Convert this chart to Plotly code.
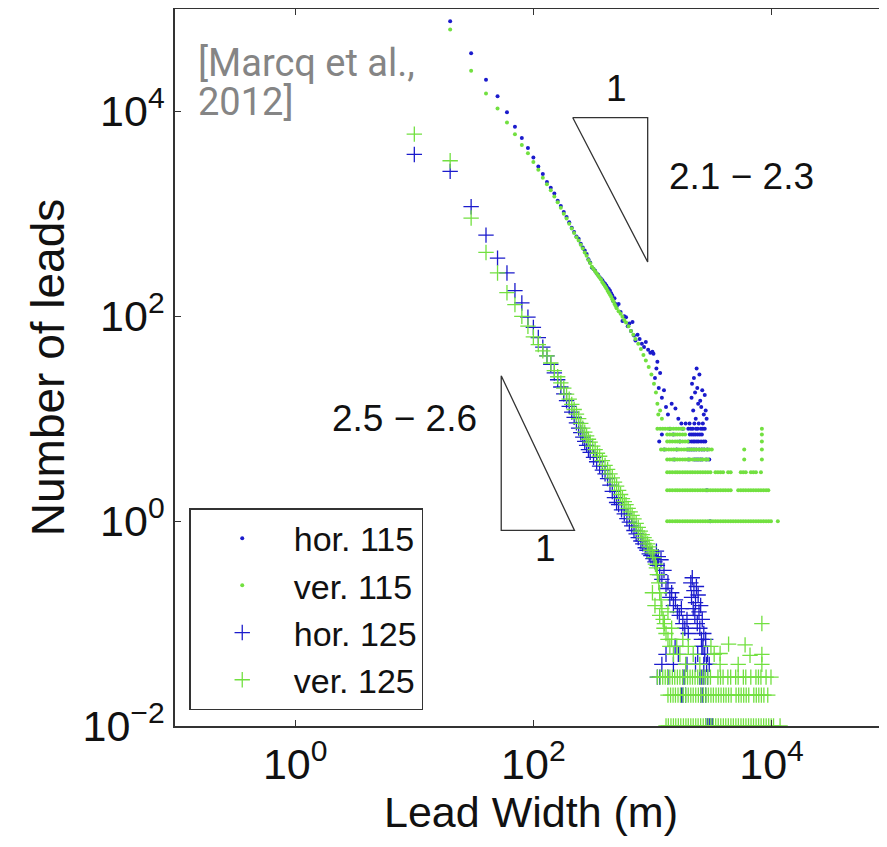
import plotly.graph_objects as go

BLUE = '#1b1bcc'
GREEN = '#72e040'
FRAME = '#333333'

# ---------------- data: (lead width in m, number of leads) ----------------
H115_MAIN = [(20,76000),(30,37000),(40,20400),(50,14100),(60,9800),(70,7100),(80,5500),(90,4400),
             (100,3550),(110,2900),(120,2450),(130,2050),(140,1800),(150,1580),(160,1340),(170,1190),
             (180,1040),(190,930),(200,830),(210,730),(220,665),(230,600),(240,570),(250,510),(260,470),
             (270,440),(280,405),(290,360),(300,335),(310,300),(320,290),(330,278),(340,262),(350,255),
             (360,240),(370,232),(380,225),(390,214),(400,208),(410,200),(420,190),(430,185),(440,178),
             (450,168),(460,160),(470,140),(480,150),(490,132),(500,125),(520,132),(540,110),(560,90),
             (580,100),(600,98),(620,80),(640,85),(660,72),(680,88),(700,65),(720,58),(750,66),(780,60),
             (815,54),(850,50),(880,56),(920,47),(960,44),(1000,45),(1020,43),(1050,25),(1080,31),
             (1100,36),(1130,20),(1160,28),(1200,16),(1250,19),(1300,13),(1350,11),(1450,14),(1560,12.6),
             (1650,10),(1750,9),
             (2130,16),(2150,22),(2200,12),(2230,25),(2280,18),(2310,10),(2350,31),(2380,20),(2420,14),
             (2480,27),(2520,15),(2570,13),(2620,19),(2700,11),(2750,17),(2800,12),(2850,10)]
H115_ROW_COUNTS = [9, 8, 7, 6, 5, 4, 2, 1]
H115_ROW_WIDTHS = [
    [1900, 2050, 2250, 2450, 2650],
    [1400, 1800, 2000, 2100, 2180, 2320, 2400, 2550, 2650, 2750],
    [1200, 1500, 2060, 2140, 2220, 2300, 2400, 2500, 2600],
    [1140, 1700, 2020, 2120, 2200, 2270, 2360, 2440, 2560, 2680, 2780],
    [1260, 1600, 1980, 2060, 2140, 2230, 2330, 2470, 2600, 2720, 2900],
    [1520, 2020, 2240, 2330, 2420, 2520, 2610, 2840, 3000],
    [2870],
    [3050],
]

V115_MAIN = [(20,63000),(30,25000),(40,15000),(50,10700),(60,7800),(70,6000),(80,4700),(90,3900),
             (100,3200),(110,2700),(120,2250),(130,1950),(140,1700),(150,1480),(160,1300),(170,1150),
             (180,1000),(190,900),(200,800),(210,720),(220,650),(230,590),(240,550),(250,500),(260,460),
             (270,420),(280,390),(290,355),(300,330),(310,305),(320,290),(330,275),(340,262),(350,250),
             (360,238),(370,228),(380,215),(390,205),(400,196),(410,188),(420,178),(430,170),(440,162),
             (450,155),(460,147),(470,140),(480,132),(490,126),(500,120),(520,112),(540,106),(560,99),
             (580,92),(600,87),(630,80),(660,72),(690,66),(720,60),(760,54),(800,48),(840,42),(880,37),
             (930,32),(980,27),(1030,22),(1070,18),(1100,14),(1120,11),(1160,12),(1200,10)]
V115_ROW_COUNTS = [1, 2, 3, 4, 5, 6, 7, 8]
V115_ROW_WIDTHS = [
    [1330,1400,1470,1550,1620,1700,1790,1880,1970,2070,2170,2280,2400,2520,2650,2780,2920,3070,3220,
     3380,3550,3730,3920,4110,4320,4540,4760,5000,5250,5520,5790,6080,6390,6710,7040,7400,7770,8150,
     8560,9000,9450,9900,11300],
    [1330,1400,1470,1550,1620,1700,1790,1880,1970,2070,2170,2280,2400,2520,2650,2780,2920,3070,3220,
     3380,3550,3730,3920,4110,4320,4540,5250,5520,5790,6080,6390,6710,7040,7400,7770,8150,8560,9000,9400],
    [1330,1400,1470,1550,1620,1700,1790,1880,1970,2070,2170,2280,2400,2520,2650,2780,2920,3070,3380,
     3550,3730,3920,4320,4540,5520,5790,6080,6710,7040,7400,8150],
    [1330,1400,1470,1550,1620,1700,1790,1880,1970,2070,2170,2280,2400,2520,2650,2780,2920,5900,8300],
    [1180,1240,1300,1370,1440,1510,1590,1670,1750,1840,1930,2030,2130,2240,2350,2470,2590,2720,2860,
     3000,3150,5900,8300],
    [1330,1400,1470,1550,1620,1700,1790,1880,1970,8300],
    [1330,1400,1470,1550,1620,1700,1790,1880,8300],
    [1100,1160,1220,1280,1350,1420,1500,1580,1660,1740,1830,8300],
]

H125_MAIN = [(10,3800),(20,2600),(30,1175),(40,620),(50,370),(60,265),(70,178),(80,135),(90,98),
             (100,78),(110,62),(120,50),(130,41),(140,34),(150,28),(160,24),(170,20.4),(180,17.5),
             (190,15),(200,13.2),(210,11.6),(220,10.3),(230,9.1),(240,8.1),(250,7.3),(260,6.6),(270,6.0),
             (280,5.5),(290,5.0),(300,4.7),(320,4.2),(340,3.8),(360,3.45),(380,3.15),(400,2.9),(420,2.6),
             (440,2.25),(460,1.95),(480,1.7),(500,1.52),(520,1.45),(550,1.29),(580,1.18),(610,1.06),
             (640,0.98),(670,0.9),(700,0.81),(730,0.75),(760,0.69),(800,0.64),(830,0.6),(870,0.55),
             (900,0.52),(940,0.48),(970,0.46),(1010,0.43),(1050,0.40),(1080,0.51),(1100,0.37),(1120,0.45),
             (1150,0.30),(1180,0.42),(1200,0.27),(1250,0.33),(1300,0.22),(1350,0.25),(1400,0.18),
             (1450,0.2),(1500,0.15),(1560,0.17),(1620,0.13),(1680,0.12),(1750,0.14),(1800,0.10),
             (1870,0.09),(1950,0.11),(2000,0.08),(2100,0.25),(2130,0.18),(2160,0.28),(2200,0.14),
             (2230,0.21),(2270,0.12),(2300,0.16),(2340,0.23),(2380,0.1),(2420,0.19),(2460,0.13),
             (2500,0.09),(2540,0.15),(2580,0.07),(2620,0.11),(2660,0.06),(2700,0.08),(2750,0.05),
             (2800,0.07),(2850,0.04)]
H125_ROW_COUNTS = [0.06, 0.05, 0.04, 0.03, 0.02, 0.01]
H125_ROW_WIDTHS = [
    [1550, 2600],
    [1300, 1650, 2400, 2900],
    [1200, 1500, 1950, 2300, 2700, 3000],
    [1100, 1150, 1350, 1800, 1850, 2500, 2600, 2700, 2900],
    [1750, 1800, 1900, 2550, 2650, 2800],
    [2800, 2900, 3000, 3100, 3200],
]

V125_MAIN = [(10,6000),(20,3300),(30,910),(40,420),(50,265),(60,170),(70,130),(80,100),(90,80),
             (100,63),(110,53),(120,46),(130,41),(140,35),(150,29.5),(160,25.7),(170,22.4),(180,19.9),
             (190,17.4),(200,15.5),(210,13.8),(220,12.3),(230,11.1),(240,10.0),(250,9.0),(260,8.1),
             (270,7.4),(280,6.8),(290,6.3),(300,5.9),(315,5.4),(330,5.0),(345,4.6),(360,4.3),(380,3.9),
             (400,3.5),(420,3.2),(440,2.9),(460,2.65),(480,2.4),(500,2.2),(520,2.0),(540,1.82),(560,1.66),
             (580,1.55),(600,1.45),(625,1.33),(650,1.23),(675,1.14),(700,1.05),(730,0.95),(760,0.87),
             (790,0.8),(820,0.74),(850,0.69),(880,0.65),(910,0.6),(940,0.56),(970,0.52),(1000,0.49),
             (1030,0.44),(1060,0.38),(1080,0.35),(1100,0.3),(1130,0.25),(1150,0.2),(1180,0.17),
             (1200,0.14),(1230,0.11),(1260,0.1),(1300,0.08),(1350,0.07),(1400,0.06),(1450,0.09),
             (1500,0.05),(1600,0.06),(1700,0.05),(1800,0.07),(1900,0.04),(2000,0.06),(2200,0.05),
             (2500,0.04),(3100,0.06),(3300,0.05),(3700,0.051),(4360,0.063),(5250,0.04),(6000,0.062),
             (6600,0.049),(8300,0.10),(8300,0.05),(8300,0.04),(3700,0.04),(1000,0.2),(1050,0.15),
             (1150,0.12),(1250,0.09),(1350,0.13),(1450,0.07)]
V125_ROW_COUNTS = [0.03, 0.02, 0.01]
V125_ROW_WIDTHS = [
    [1100,1160,1220,1280,1340,1400,1470,1540,1620,1700,1790,1880,1970,2070,2170,2280,2400,2520,2650,
     2780,2920,3070,3550,3730,3920,4300,4540,5000,5250,5800,6080,6700,7400,7770,8150,9000,9900],
    [1350,1420,1490,1560,1640,1720,1810,1900,2000,2100,2200,2310,2430,2550,2680,2810,2950,3100,3250,
     3420,3590,3770,3960,4150,4360,4580,5040,5300,5560,5840,6130,6440,7100,7450,7820,8220,8630,9300],
    [1300,1360,1430,1500,1570,1650,1730,1820,1910,2000,2100,2200,2310,2420,2540,2670,2800,2940,3090,
     3240,3400,3570,3750,3940,4130,4340,4560,4780,5020,5270,5540,5810,6100,6410,6730,7060,7420,7790,
     8180,8590,9020,9470,9940,10400,11800],
]

# slope triangles (vertices in data units)
TRI_UP_X = [10**2.33, 10**2.96, 10**2.96, 10**2.33]
TRI_UP_Y = [10**3.94, 10**3.94, 10**2.53, 10**3.94]
TRI_LO_X = [10**1.73, 10**1.73, 10**2.345, 10**1.73]
TRI_LO_Y = [10**1.42, 10**-0.09, 10**-0.09, 10**1.42]

SERIES_NAMES = ['hor. 115', 'ver. 115', 'hor. 125', 'ver. 125']
TICK_VALS = [1e-2, 1, 1e2, 1e4]
TICK_TEXT = ['10<sup>−2</sup>', '10<sup>0</sup>', '10<sup>2</sup>', '10<sup>4</sup>']


def collect(main, row_counts, row_widths):
    xs = [p[0] for p in main]
    ys = [p[1] for p in main]
    for n, ws in zip(row_counts, row_widths):
        xs += ws
        ys += [n] * len(ws)
    return xs, ys


h115 = collect(H115_MAIN, H115_ROW_COUNTS, H115_ROW_WIDTHS)
v115 = collect(V115_MAIN, V115_ROW_COUNTS, V115_ROW_WIDTHS)
h125 = collect(H125_MAIN, H125_ROW_COUNTS, H125_ROW_WIDTHS)
v125 = collect(V125_MAIN, V125_ROW_COUNTS, V125_ROW_WIDTHS)

fig = go.Figure()
fig.add_trace(go.Scatter(x=h115[0], y=h115[1], mode='markers', name=SERIES_NAMES[0],
                         marker=dict(symbol='circle', size=4, color=BLUE, line=dict(width=0))))
fig.add_trace(go.Scatter(x=v115[0], y=v115[1], mode='markers', name=SERIES_NAMES[1],
                         marker=dict(symbol='circle', size=4, color=GREEN, line=dict(width=0))))
fig.add_trace(go.Scatter(x=h125[0], y=h125[1], mode='markers', name=SERIES_NAMES[2],
                         marker=dict(symbol='cross-thin', size=11, color=BLUE,
                                     line=dict(width=1.3, color=BLUE))))
fig.add_trace(go.Scatter(x=v125[0], y=v125[1], mode='markers', name=SERIES_NAMES[3],
                         marker=dict(symbol='cross-thin', size=11, color=GREEN,
                                     line=dict(width=1.3, color=GREEN))))
for tx, ty in [(TRI_UP_X, TRI_UP_Y), (TRI_LO_X, TRI_LO_Y)]:
    fig.add_trace(go.Scatter(x=tx, y=ty, mode='lines', showlegend=False, hoverinfo='skip',
                             line=dict(color=FRAME, width=1.3)))

SANS = 'Liberation Sans, Arial, sans-serif'
TEXT_FONT = dict(family=SANS, color='#111111')
annots = [
    dict(x=2.70, y=4.22, text='1', font=dict(size=37, **TEXT_FONT)),
    dict(x=3.75, y=3.36, text='2.1 − 2.3', font=dict(size=37, **TEXT_FONT)),
    dict(x=0.92, y=1.0, text='2.5 − 2.6', font=dict(size=37, **TEXT_FONT)),
    dict(x=2.10, y=-0.27, text='1', font=dict(size=37, **TEXT_FONT)),
]
for a in annots:
    fig.add_annotation(xref='x', yref='y', showarrow=False, xanchor='center', yanchor='middle', **a)

CITE_FONT = dict(family='Roboto', size=38, color='#858585')
fig.add_annotation(xref='paper', yref='paper', x=0.03, y=0.958, xanchor='left', yanchor='top',
                   align='left', showarrow=False, text='[Marcq et al.,', font=CITE_FONT)
fig.add_annotation(xref='paper', yref='paper', x=0.03, y=0.904, xanchor='left', yanchor='top',
                   align='left', showarrow=False, text='2012]', font=CITE_FONT)

axis_common = dict(type='log', showgrid=False, zeroline=False, showline=True, linecolor=FRAME,
                   linewidth=1.5, mirror='ticks', ticks='inside', ticklen=6, tickwidth=1.2,
                   tickcolor=FRAME, tickvals=TICK_VALS, ticktext=TICK_TEXT, automargin=False,
                   tickfont=dict(family=SANS, size=43, color='#111111'))

# the page body adds an 8 px offset, so the figure is 8 px smaller than the window
fig.update_layout(
    width=879, height=839,
    margin=dict(l=167, r=0, t=1, b=121),
    paper_bgcolor='white', plot_bgcolor='white',
    showlegend=True,
    legend=dict(x=0.02, y=0.304, xanchor='left', yanchor='top', bgcolor='white',
                bordercolor=FRAME, borderwidth=1.5, itemwidth=93, tracegroupgap=0,
                font=dict(family=SANS, size=34, color='#111111')),
    xaxis=dict(range=[-1.01, 4.97],
               title=dict(text='Lead Width (m)', standoff=6,
                          font=dict(family=SANS, size=43, color='#111111')),
               **axis_common),
    yaxis=dict(range=[-2, 5],
               title=dict(text='Number of leads', standoff=3,
                          font=dict(family=SANS, size=46, color='#111111')),
               **axis_common),
)

fig.write_html('out.html')
